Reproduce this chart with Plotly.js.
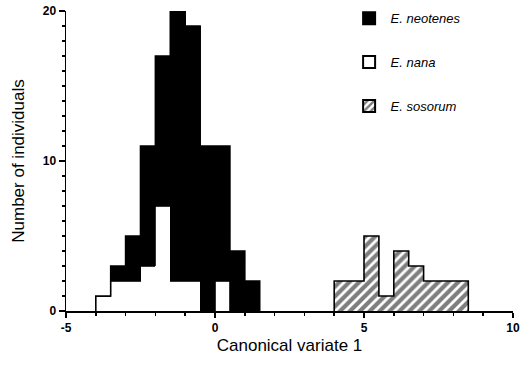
<!DOCTYPE html>
<html>
<head>
<meta charset="utf-8">
<script src="https://cdn.plot.ly/plotly-3.0.1.min.js"></script>
<style>html,body{margin:0;padding:0;background:#fff;}#chart{width:521px;height:369px;}</style>
</head>
<body>
<div id="chart"></div>
<script>
// Bin centres (bin width 0.5) for the left cluster
var binCenters = [-3.75, -3.25, -2.75, -2.25, -1.75, -1.25, -0.75, -0.25, 0.25, 0.75, 1.25];
// E. nana counts (bottom of stack)
var nanaCounts = [1, 2, 2, 3, 7, 2, 2, 0, 2, 0, 0];
// E. neotenes counts (stacked above E. nana)
var neotenesCounts = [0, 1, 3, 8, 10, 18, 17, 11, 9, 4, 2];
// E. sosorum bins and counts
var sosorumCenters = [4.25, 4.75, 5.25, 5.75, 6.25, 6.75, 7.25, 7.75, 8.25];
var sosorumCounts = [2, 2, 5, 1, 4, 3, 2, 2, 2];
var binWidth = 0.5;
// Axis tick labels (plain hyphen as in the original)
var xTickVals = [-5, 0, 5, 10];
var xTickText = ['-5', '0', '5', '10'];

// Step outline (drawn through the axes) around a histogram from its bin centres and totals
function stepOutline(centers, totals) {
  var xs = [centers[0] - binWidth / 2], ys = [0];
  for (var i = 0; i < centers.length; i++) { xs.push(centers[i] - binWidth / 2); ys.push(totals[i]); }
  xs.push(centers[centers.length - 1] + binWidth / 2); ys.push(0);
  return {xs: xs, ys: ys};
}
var leftTotals = binCenters.map(function (c, i) { return nanaCounts[i] + neotenesCounts[i]; });
var leftOutline = stepOutline(binCenters, leftTotals);
var rightOutline = stepOutline(sosorumCenters, sosorumCounts);

var hatch = {shape: '/', fgcolor: '#000000', bgcolor: '#ffffff', size: 7, solidity: 0.6, fillmode: 'overlay'};

var traces = [
  {
    type: 'bar', name: 'E. nana', x: binCenters, y: nanaCounts, width: binWidth,
    marker: {color: '#ffffff', line: {width: 0}}, showlegend: false
  },
  {
    type: 'bar', name: 'E. neotenes', x: binCenters, y: neotenesCounts, width: binWidth,
    marker: {color: '#000000', line: {color: '#000000', width: 0.8}}, showlegend: false
  },
  {
    type: 'bar', name: 'E. sosorum', x: sosorumCenters, y: sosorumCounts, width: binWidth,
    marker: {color: '#ffffff', line: {width: 0}, pattern: hatch}, showlegend: false
  },
  {
    type: 'scatter', mode: 'lines', x: leftOutline.xs, y: leftOutline.ys,
    line: {shape: 'hv', color: '#000', width: 1.6}, showlegend: false, hoverinfo: 'skip'
  },
  {
    type: 'scatter', mode: 'lines', x: rightOutline.xs, y: rightOutline.ys,
    line: {shape: 'hv', color: '#000', width: 1.6}, showlegend: false, hoverinfo: 'skip'
  },
  // legend-only entries (no data points)
  {
    type: 'bar', name: 'E. neotenes', x: [null], y: [null],
    marker: {color: '#000000', line: {color: '#000000', width: 2}},
    legendgroup: 'a', legendrank: 1
  },
  {
    type: 'bar', name: 'E. nana', x: [null], y: [null],
    marker: {color: '#ffffff', line: {color: '#000000', width: 2}},
    legendgroup: 'b', legendrank: 2
  },
  {
    type: 'bar', name: 'E. sosorum', x: [null], y: [null],
    marker: {color: '#ffffff', line: {color: '#000000', width: 2},
      pattern: {shape: '/', fgcolor: '#000000', bgcolor: '#ffffff', size: 6, solidity: 0.5, fillmode: 'overlay'}},
    legendgroup: 'c', legendrank: 3
  }
];

var tickFont = {family: 'Liberation Sans, Arial, sans-serif', size: 12, color: '#000', weight: 'bold'};
var layout = {
  width: 521, height: 369,
  margin: {l: 66, r: 8, t: 11, b: 58, autoexpand: false},
  paper_bgcolor: '#fff', plot_bgcolor: '#fff',
  barmode: 'stack', bargap: 0,
  font: {family: 'Liberation Sans, Arial, sans-serif', color: '#000'},
  xaxis: {
    range: [-5, 10], tickmode: 'array', tickvals: xTickVals, ticktext: xTickText,
    showgrid: false, zeroline: false,
    showline: true, linecolor: '#000', linewidth: 1.5,
    ticks: 'outside', ticklen: 5, tickwidth: 1.5, tickcolor: '#000',
    minor: {tickmode: 'linear', tick0: 0, dtick: 1, ticks: 'outside', ticklen: 3, tickwidth: 1.5, tickcolor: '#000'},
    tickfont: tickFont,
    title: {text: 'Canonical variate 1', font: {size: 17}, standoff: 5}
  },
  yaxis: {
    range: [0, 20], dtick: 10, tick0: 0, showgrid: false, zeroline: false,
    showline: true, linecolor: '#000', linewidth: 1.5,
    ticks: 'outside', ticklen: 6, tickwidth: 1.5, tickcolor: '#000',
    minor: {dtick: 1, ticks: 'outside', ticklen: 3, tickwidth: 1.5, tickcolor: '#000'},
    tickfont: tickFont,
    title: {text: 'Number of individuals', font: {size: 17}, standoff: 14}
  },
  showlegend: true,
  legend: {
    x: 0.63, y: 1.026, xanchor: 'left', yanchor: 'top',
    traceorder: 'grouped', tracegroupgap: 24, itemwidth: 33,
    bgcolor: 'rgba(0,0,0,0)', borderwidth: 0,
    font: {size: 13, style: 'italic', color: '#000'}
  }
};

Plotly.newPlot('chart', traces, layout, {displayModeBar: false, staticPlot: true});
</script>
</body>
</html>
